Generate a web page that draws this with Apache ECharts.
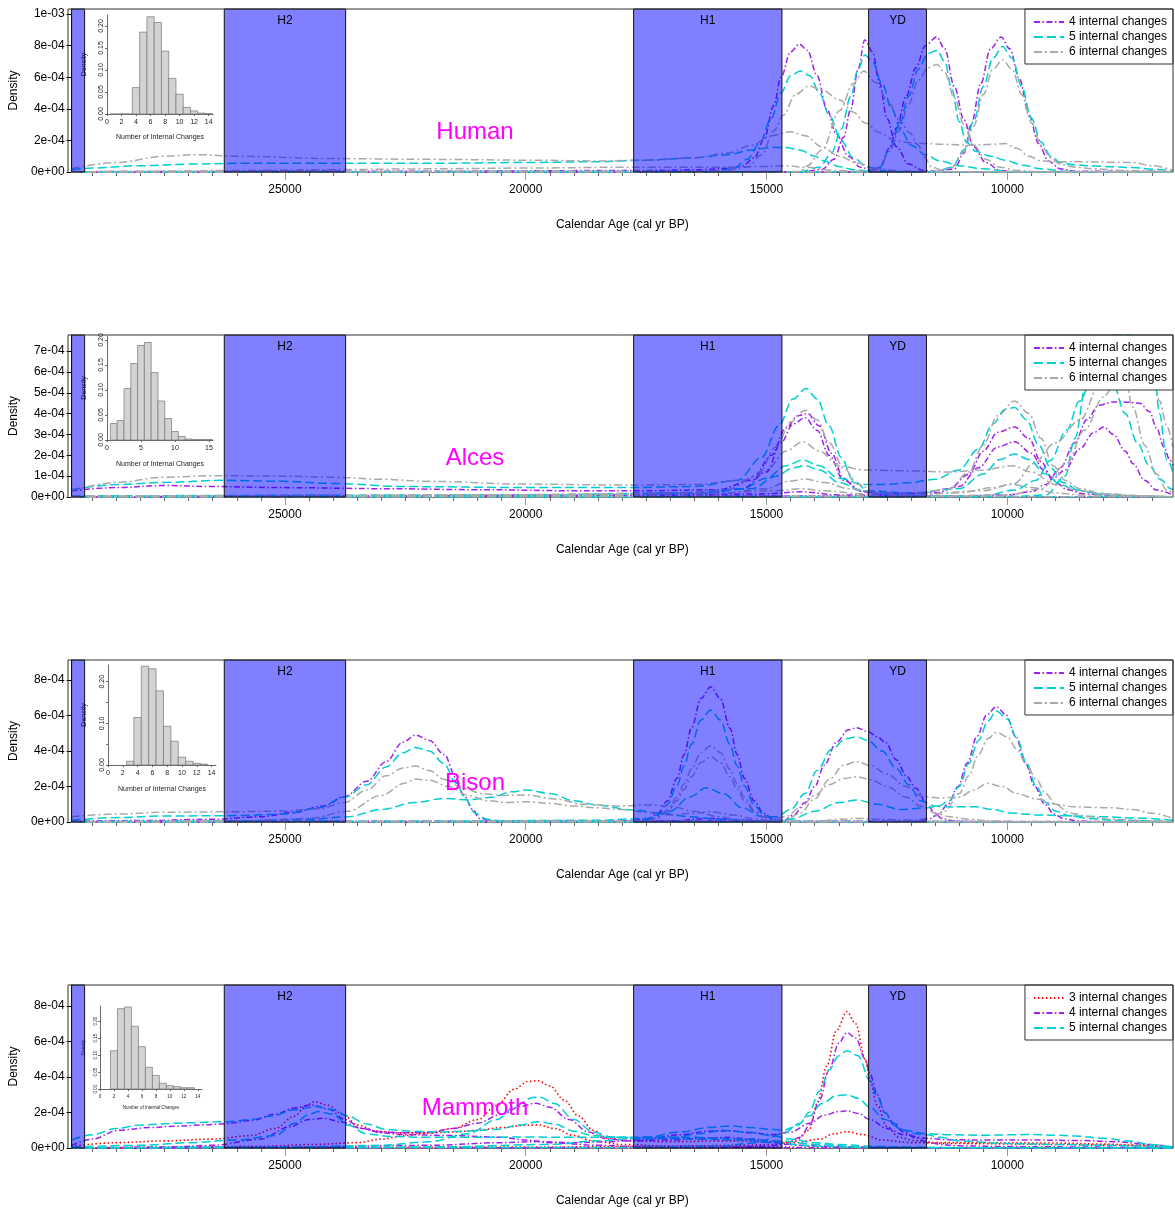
<!DOCTYPE html>
<html>
<head>
<meta charset="utf-8">
<script src="https://cdn.jsdelivr.net/npm/echarts@6/dist/echarts.min.js"></script>
<style>html,body{margin:0;padding:0;background:#fff}#c{width:1175px;height:1211px}</style>
</head>
<body>
<div id="c"></div>
<script>
// ---------------- DATA (densities in units of 1e-4, x = calendar age cal yr BP) ----------------
const panelNames = ['Human', 'Alces', 'Bison', 'Mammoth'];
const xTickLabels = [25000, 20000, 15000, 10000];
const bandStart = [29430, 26260, 17760, 12880];
const bandEnd   = [29160, 23740, 14680, 11680];
const bandLabels = ['', 'H2', 'H1', 'YD'];

// Human
const human4a = [[29430,0.02],[22000,0.05],[17500,0.1],[16300,0.15],[15700,0.25],[15500,0.4],[15250,0.9],[15050,2.1],[14850,4.2],[14700,6.0],[14500,7.6],[14320,8.1],[14150,7.7],[13950,6.1],[13750,4.0],[13550,2.4],[13300,1.0],[13050,0.3],[12750,0.05],[12400,0.02],[6560,0.01]];
const human4b = [[29430,0.01],[14300,0.02],[13850,0.15],[13600,0.8],[13400,2.2],[13250,4.0],[13100,6.5],[12960,8.35],[12800,7.6],[12650,5.6],[12500,3.4],[12300,1.6],[12050,0.5],[11750,0.1],[11400,0.02],[6560,0.01]];
const human4c = [[29430,0],[12900,0.02],[12650,0.25],[12450,1.5],[12300,2.8],[12100,4.8],[11900,6.6],[11700,8.0],[11470,8.55],[11300,7.8],[11100,5.4],[10900,3.3],[10700,1.6],[10450,0.6],[10150,0.1],[9900,0.02],[6560,0]];
const human4d = [[29430,0],[11500,0.02],[11100,0.2],[10900,1.2],[10750,3.0],[10550,5.6],[10350,7.8],[10130,8.55],[9950,7.8],[9750,5.9],[9550,3.6],[9350,1.8],[9150,0.7],[8900,0.2],[8600,0.05],[6560,0.02]];
const human5a = [[29430,0.15],[29000,0.25],[28000,0.4],[27000,0.5],[26000,0.55],[24000,0.55],[22000,0.55],[20000,0.6],[18500,0.65],[17500,0.75],[16500,0.9],[15800,1.1],[15300,1.4],[14900,1.56],[14600,1.55],[14300,1.4],[14000,1.0],[13800,0.7],[13500,0.35],[13200,0.15],[12800,0.03],[12400,0.01],[6560,0]];
const human5b = [[29430,0.01],[16200,0.03],[15700,0.2],[15400,0.8],[15150,1.8],[14900,3.4],[14700,5.0],[14500,6.1],[14300,6.4],[14100,6.1],[13900,5.0],[13700,3.6],[13450,2.0],[13200,0.9],[12900,0.3],[12500,0.05],[12200,0.01],[6560,0]];
const human5c = [[29430,0],[14300,0.02],[13900,0.3],[13650,1.2],[13450,2.7],[13250,4.8],[13100,6.5],[12960,7.4],[12800,7.0],[12600,5.6],[12400,4.0],[12200,2.6],[12000,1.7],[11700,1.1],[11400,0.7],[11000,0.4],[10500,0.2],[10000,0.05],[9600,0.01],[6560,0]];
const human5d = [[29430,0],[12900,0.02],[12650,0.3],[12450,1.4],[12250,2.9],[12050,4.8],[11850,6.5],[11650,7.5],[11460,7.7],[11300,7.0],[11150,5.2],[11000,3.2],[10850,1.9],[10650,1.3],[10350,1.0],[10050,0.75],[9700,0.45],[9300,0.2],[8800,0.05],[8400,0.02],[6560,0]];
const human5e = [[29430,0],[11500,0.02],[11150,0.3],[10900,1.4],[10700,3.2],[10500,5.4],[10300,7.2],[10100,7.95],[9900,7.2],[9700,5.4],[9500,3.4],[9300,1.9],[9100,1.0],[8900,0.6],[8600,0.45],[8200,0.38],[7800,0.33],[7400,0.28],[7000,0.18],[6560,0.05]];
const human6a = [[29430,0.2],[28500,0.6],[27500,1.0],[26800,1.1],[26000,1.0],[24000,0.85],[22000,0.8],[20000,0.75],[18500,0.7],[17500,0.75],[16500,0.9],[15800,1.2],[15300,1.7],[14900,2.3],[14500,2.55],[14200,2.3],[13850,1.6],[13500,1.0],[13100,0.55],[12650,0.2],[12200,0.05],[11800,0.02],[6560,0]];
const human6b = [[29430,0.01],[16000,0.05],[15400,0.3],[15100,1.1],[14850,2.6],[14650,3.6],[14400,4.9],[14120,5.44],[13850,5.2],[13480,4.56],[13200,3.8],[12950,3.1],[12650,2.5],[12340,2.0],[12000,1.85],[11700,1.8],[11300,1.75],[10800,1.7],[10300,1.75],[10050,1.8],[9800,1.5],[9550,1.0],[9300,0.7],[8900,0.65],[8500,0.65],[7800,0.62],[7400,0.6],[7000,0.4],[6560,0.1]];
const human6c = [[29430,0],[14300,0.03],[14150,0.4],[13850,1.4],[13480,3.9],[13200,5.6],[12980,6.4],[12750,5.7],[12480,4.5],[12250,3.3],[12030,2.5],[11850,1.7],[11730,0.97],[11560,0.3],[11300,0.05],[11000,0.01],[6560,0]];
const human6d = [[29430,0],[12900,0.02],[12650,0.3],[12450,1.3],[12250,2.6],[12050,4.3],[11850,5.8],[11650,6.6],[11460,6.8],[11300,6.3],[11100,4.7],[10900,3.0],[10700,1.7],[10450,0.8],[10150,0.3],[9800,0.1],[9400,0.02],[6560,0]];
const human6e = [[29430,0],[11500,0.02],[11150,0.3],[10900,1.3],[10700,2.9],[10500,4.9],[10300,6.5],[10100,7.1],[9900,6.5],[9700,4.9],[9500,3.1],[9300,1.7],[9100,0.9],[8900,0.5],[8600,0.3],[8200,0.2],[7600,0.1],[6560,0.02]];
const human6f = [[29430,0],[28000,0.05],[26000,0.1],[24000,0.15],[22000,0.2],[20000,0.25],[18000,0.3],[16000,0.3],[15000,0.35],[14600,0.4],[14200,0.3],[13600,0.1],[13000,0.05],[12000,0.03],[11000,0.01],[6560,0]];

// Alces
const alces4a = [[29430,0.3],[28500,0.45],[27500,0.55],[26500,0.5],[25000,0.45],[23000,0.4],[21000,0.35],[19000,0.3],[17500,0.3],[16000,0.35],[15300,0.8],[14900,2.0],[14600,3.3],[14350,3.9],[14150,4.0],[13900,3.4],[13650,2.1],[13400,0.9],[13100,0.3],[12600,0.1],[12000,0.05],[11000,0.02],[6560,0]];
const alces4b = [[29430,0],[24000,0.05],[19000,0.1],[16500,0.15],[15500,0.4],[15000,1.2],[14700,2.6],[14450,3.5],[14200,3.8],[13950,3.2],[13700,2.0],[13400,0.8],[13000,0.25],[12500,0.15],[11800,0.2],[11200,0.4],[10800,1.1],[10500,2.2],[10200,3.1],[9850,3.36],[9550,2.8],[9300,1.7],[9050,0.8],[8750,0.35],[8400,0.15],[7800,0.05],[6560,0]];
const alces4c = [[29430,0],[18000,0.05],[15000,0.15],[14300,0.25],[13500,0.1],[12500,0.1],[11500,0.2],[11000,0.5],[10600,1.4],[10200,2.4],[9850,2.65],[9500,2.1],[9250,1.3],[9050,0.9],[8800,1.3],[8500,2.3],[8200,3.1],[8000,3.36],[7800,3.0],[7550,2.2],[7390,1.6],[7150,0.8],[6900,0.33],[6560,0.1]];
const alces4d = [[29430,0],[14000,0.05],[11000,0.05],[10000,0.1],[9500,0.25],[9200,0.6],[8900,1.4],[8600,2.6],[8350,3.7],[8100,4.4],[7800,4.56],[7500,4.55],[7250,4.5],[7050,4.1],[6900,3.3],[6750,2.4],[6630,1.8],[6560,1.5]];
const alces5a = [[29430,0.35],[28500,0.6],[27500,0.7],[26300,0.8],[25000,0.75],[24000,0.65],[22500,0.5],[20000,0.45],[18000,0.45],[16500,0.5],[15600,0.8],[15100,1.9],[14750,3.4],[14450,4.7],[14180,5.2],[13950,4.7],[13700,3.4],[13450,1.9],[13200,0.8],[12900,0.3],[12400,0.1],[11500,0.05],[10500,0.02],[6560,0]];
const alces5b = [[29430,0.05],[20000,0.1],[16500,0.2],[15500,0.4],[15000,0.9],[14600,1.5],[14250,1.77],[13900,1.5],[13500,0.9],[13000,0.6],[12500,0.6],[12000,0.7],[11500,0.85],[11000,1.3],[10600,2.3],[10300,3.5],[10050,4.2],[9850,4.29],[9600,3.7],[9350,2.5],[9100,1.4],[8850,0.7],[8500,0.3],[8000,0.1],[7000,0.02],[6560,0]];
const alces5c = [[29430,0],[22000,0.05],[16500,0.15],[15300,0.4],[14800,1.0],[14450,1.4],[14200,1.5],[13900,1.3],[13500,0.7],[13000,0.3],[12000,0.2],[11000,0.4],[10500,1.1],[10150,1.8],[9850,2.06],[9550,1.8],[9200,1.1],[8900,0.6],[8600,0.35],[8200,0.2],[7500,0.05],[6560,0]];
const alces5d = [[29430,0],[12000,0.02],[10500,0.05],[9850,0.33],[9400,0.8],[9110,1.75],[8770,3.2],[8500,4.6],[8250,5.6],[8050,6.0],[7806,5.4],[7550,4.0],[7300,2.6],[7050,1.5],[6835,0.86],[6600,0.4],[6560,0.35]];
const alces5e = [[29430,0],[10000,0],[9200,0.1],[8800,1.0],[8600,2.8],[8350,5.6],[8100,7.2],[7800,7.8],[7500,7.8],[7250,7.4],[7050,6.5],[6938,5.6],[6840,4.0],[6690,1.8],[6560,1.2]];
const alces6a = [[29430,0.3],[28500,0.7],[27500,0.95],[26500,1.02],[25000,1.0],[24000,0.95],[23000,0.85],[22000,0.75],[20000,0.62],[18000,0.57],[16500,0.6],[15500,0.8],[15000,1.3],[14600,2.2],[14250,2.65],[13900,2.2],[13500,1.5],[13000,1.3],[12000,1.25],[11200,1.2],[10500,1.3],[9900,1.5],[9500,1.2],[9000,0.6],[8500,0.3],[8000,0.15],[7000,0.05],[6560,0]];
const alces6b = [[29430,0],[25000,0.05],[20000,0.1],[17000,0.2],[15800,0.35],[15200,1.0],[14800,2.4],[14500,3.6],[14200,4.16],[13950,3.7],[13700,2.6],[13400,1.4],[13100,0.6],[12700,0.2],[12000,0.05],[11000,0.02],[6560,0]];
const alces6c = [[29430,0.05],[24000,0.06],[19000,0.08],[16000,0.15],[15000,0.4],[14550,0.75],[14200,0.86],[13800,0.7],[13300,0.4],[12600,0.2],[11800,0.2],[11200,0.4],[10800,1.2],[10500,2.5],[10200,3.9],[9850,4.61],[9550,4.0],[9300,2.8],[9050,1.5],[8800,0.8],[8500,0.4],[8000,0.15],[7500,0.05],[6560,0]];
const alces6d = [[29430,0],[14000,0.05],[12000,0.1],[10500,0.3],[9850,0.65],[9462,1.6],[9000,2.6],[8490,3.7],[8076,5.4],[7800,6.2],[7550,5.6],[7392,4.3],[7150,2.5],[6900,1.1],[6690,0.33],[6560,0.2]];
const alces6e = [[29430,0],[12000,0.02],[10000,0.1],[9300,0.4],[8766,1.6],[8400,3.2],[8000,4.8],[7730,5.6],[7450,7.0],[7250,7.5],[7050,6.8],[6835,4.6],[6690,3.4],[6560,2.4]];
const alces6f = [[29430,0.02],[27000,0.05],[24000,0.08],[21000,0.1],[18000,0.15],[16000,0.2],[14800,0.3],[14300,0.4],[13800,0.3],[13000,0.15],[12000,0.1],[11000,0.2],[10300,0.45],[9900,0.6],[9500,0.45],[9000,0.2],[8500,0.1],[7500,0.05],[6560,0.02]];

// Bison
const bison4a = [[29430,0.05],[28000,0.08],[26500,0.15],[25500,0.3],[24800,0.55],[24200,0.9],[23760,1.43],[23300,2.3],[22900,3.4],[22550,4.5],[22290,4.9],[22000,4.6],[21690,3.8],[21450,2.5],[21286,1.5],[21100,0.7],[20965,0.2],[20600,0.05],[20000,0.03],[17000,0.05],[15000,0.05],[12000,0.03],[6560,0.01]];
const bison4b = [[29430,0.02],[18000,0.03],[17460,0.16],[17260,0.48],[17060,1.19],[16860,2.46],[16710,3.81],[16560,5.29],[16360,6.96],[16160,7.62],[15960,6.96],[15760,5.29],[15610,3.81],[15460,2.46],[15260,1.19],[15060,0.48],[14860,0.16],[14600,0.03],[6560,0.01]];
const bison4c = [[29430,0.01],[17000,0.05],[16200,0.2],[15500,0.1],[14900,0.03],[14665,0.05],[14428,0.4],[14200,1.1],[14000,2.0],[13800,3.2],[13550,4.5],[13300,5.2],[13130,5.31],[12900,5.1],[12700,4.8],[12538,4.5],[12300,3.5],[12100,2.6],[11900,1.9],[11660,0.96],[11500,0.5],[11366,0.2],[11100,0.05],[10800,0.02],[6560,0]];
const bison4d = [[29430,0],[11900,0.02],[11628,0.18],[11428,0.45],[11228,1.02],[11028,1.99],[10828,3.34],[10628,4.84],[10428,6.04],[10228,6.5],[10028,6.04],[9828,4.84],[9628,3.34],[9428,1.99],[9228,1.02],[9028,0.45],[8828,0.18],[8500,0.05],[8000,0.02],[6560,0.01]];
const bison5a = [[29430,0.1],[28500,0.25],[27500,0.34],[26000,0.36],[25000,0.45],[24300,0.8],[23760,1.4],[23300,2.1],[22900,3.1],[22550,3.9],[22290,4.2],[22000,4.0],[21700,3.3],[21450,2.2],[21250,1.3],[21050,0.5],[20800,0.15],[20400,0.03],[20000,0.01],[6560,0]];
const bison5b = [[29430,0],[26000,0.05],[24500,0.15],[23700,0.3],[23000,0.7],[22300,1.1],[21690,1.33],[21200,1.25],[20700,1.4],[20300,1.7],[19973,1.8],[19500,1.6],[19000,1.2],[18500,0.95],[17800,0.68],[17200,0.5],[16600,0.3],[16000,0.15],[15000,0.05],[14000,0.02],[6560,0]];
const bison5c = [[29430,0],[18000,0.02],[17460,0.13],[17260,0.39],[17060,0.98],[16860,2.05],[16710,3.16],[16560,4.38],[16360,5.75],[16160,6.31],[15960,5.75],[15760,4.38],[15610,3.16],[15460,2.05],[15260,0.98],[15060,0.39],[14860,0.13],[14600,0.03],[6560,0]];
const bison5d = [[29430,0.02],[22000,0.05],[18500,0.1],[17500,0.2],[17000,0.6],[16600,1.4],[16250,1.93],[15900,1.6],[15500,0.8],[15100,0.3],[14800,0.3],[14500,0.7],[14200,1.6],[13950,2.9],[13650,4.1],[13350,4.7],[13130,4.8],[12900,4.6],[12600,4.0],[12300,3.0],[12050,2.1],[11800,1.2],[11500,0.9],[11200,0.85],[10900,0.86],[10660,0.86],[10300,0.7],[9900,0.5],[9400,0.4],[8800,0.35],[8000,0.3],[7300,0.22],[6560,0.1]];
const bison5e = [[29430,0],[15000,0.02],[14500,0.15],[14000,0.6],[13500,1.1],[13130,1.24],[12700,1.0],[12200,0.7],[11700,0.8],[11450,0.86],[11200,1.2],[11000,2.0],[10800,3.3],[10600,4.6],[10400,5.7],[10228,6.25],[10000,5.8],[9800,4.7],[9600,3.3],[9400,2.0],[9200,1.1],[9000,0.6],[8700,0.35],[8300,0.2],[7800,0.1],[6560,0.02]];
const bison6a = [[29430,0.3],[28500,0.45],[27500,0.55],[26000,0.58],[25000,0.62],[24300,0.75],[23760,1.1],[23300,1.8],[22900,2.6],[22550,3.05],[22290,3.15],[22000,2.9],[21690,2.4],[21300,1.9],[20900,1.6],[20500,1.5],[19973,1.52],[19400,1.3],[18800,1.0],[18000,0.9],[17500,0.96],[17000,0.9],[16500,0.6],[16000,0.3],[15500,0.1],[15000,0.02],[14500,0.01],[6560,0]];
const bison6b = [[29430,0],[26000,0.05],[24500,0.2],[23700,0.6],[23000,1.5],[22500,2.2],[22290,2.42],[22000,2.35],[21600,2.0],[21200,1.5],[20800,1.2],[20400,1.1],[19973,1.14],[19500,1.05],[19000,0.9],[18500,0.8],[18000,0.7],[17500,0.55],[17000,0.4],[16500,0.5],[16160,0.58],[15700,0.4],[15200,0.15],[14800,0.05],[14400,0.02],[6560,0]];
const bison6c = [[29430,0],[18000,0.02],[17460,0.09],[17260,0.27],[17060,0.67],[16860,1.4],[16710,2.15],[16560,2.98],[16360,3.92],[16160,4.3],[15960,3.92],[15760,2.98],[15610,2.15],[15460,1.4],[15260,0.67],[15060,0.27],[14860,0.09],[14600,0.02],[6560,0]];
const bison6d = [[29430,0],[18000,0.02],[17460,0.08],[17260,0.23],[17060,0.57],[16860,1.2],[16710,1.84],[16560,2.55],[16360,3.36],[16160,3.68],[15960,3.36],[15760,2.55],[15610,1.84],[15460,1.2],[15260,0.6],[15060,0.3],[14860,0.2],[14600,0.3],[14300,0.8],[14000,1.5],[13700,2.1],[13400,2.45],[13130,2.55],[12850,2.4],[12500,2.0],[12100,1.4],[11800,0.9],[11500,0.5],[11200,0.3],[10800,0.15],[10300,0.05],[9800,0.02],[6560,0]];
const bison6e = [[29430,0.02],[20000,0.05],[16000,0.05],[14900,0.03],[14600,0.1],[14300,0.5],[14000,1.3],[13700,2.4],[13400,3.2],[13130,3.4],[12850,3.2],[12500,2.7],[12100,2.0],[11750,1.43],[11400,1.35],[11000,1.4],[10700,1.8],[10414,2.18],[10100,2.0],[9800,1.6],[9400,1.3],[9000,1.0],[8620,0.86],[8200,0.82],[7830,0.8],[7400,0.7],[7000,0.5],[6560,0.2]];
const bison6f = [[29430,0.01],[14000,0.03],[13500,0.15],[13131,0.2],[12600,0.15],[12000,0.1],[11600,0.2],[11300,0.6],[11000,1.6],[10800,2.6],[10600,3.8],[10400,4.7],[10228,5.05],[10000,4.8],[9800,4.1],[9600,3.2],[9400,2.4],[9200,1.6],[9000,1.0],[8700,0.5],[8300,0.3],[7800,0.15],[7000,0.05],[6560,0.02]];

// Mammoth
const mammoth3a = [[29430,0.1],[28500,0.3],[27500,0.4],[26500,0.5],[25700,0.7],[25200,1.1],[24800,1.8],[24550,2.4],[24390,2.61],[24100,2.4],[23800,1.9],[23500,1.3],[23100,0.95],[22600,0.85],[22000,0.85],[21500,0.9],[21000,1.0],[20500,1.15],[20000,1.28],[19750,1.3],[19400,1.1],[19000,0.7],[18600,0.4],[18000,0.2],[17000,0.1],[15000,0.05],[13000,0.03],[10000,0.01],[6560,0]];
const mammoth3b = [[29430,0],[27000,0.05],[25500,0.1],[24400,0.2],[23500,0.3],[23000,0.5],[22500,0.7],[22000,0.85],[21500,1.1],[21000,1.6],[20600,2.4],[20250,3.3],[19950,3.75],[19750,3.79],[19500,3.5],[19200,2.7],[18900,1.8],[18600,1.0],[18300,0.55],[17800,0.4],[17000,0.35],[16000,0.4],[15500,0.4],[15000,0.35],[14400,0.3],[13900,0.5],[13600,0.8],[13330,0.92],[13000,0.75],[12600,0.45],[12000,0.3],[11000,0.25],[9000,0.2],[7500,0.15],[6560,0.05]];
const mammoth3c = [[29430,0],[26000,0.03],[20000,0.05],[17000,0.1],[15500,0.15],[14800,0.2],[14400,0.4],[14118,1.0],[13950,2.5],[13750,4.6],[13550,6.6],[13330,7.68],[13150,7.0],[12950,5.0],[12855,3.8],[12700,2.4],[12500,1.2],[12250,0.6],[11900,0.4],[11500,0.3],[10500,0.3],[9000,0.28],[8000,0.22],[7200,0.15],[6560,0.05]];
const mammoth4a = [[29430,0.15],[29000,0.5],[28455,1.0],[27800,1.15],[27255,1.23],[26700,1.3],[26220,1.37],[25700,1.55],[25200,1.9],[24800,2.25],[24450,2.42],[24100,2.2],[23750,1.6],[23400,1.1],[23000,0.85],[22500,0.75],[21500,0.7],[20500,0.6],[20000,0.45],[19500,0.3],[18500,0.15],[17500,0.05],[16000,0.02],[6560,0]];
const mammoth4b = [[29430,0],[27500,0.05],[26500,0.15],[25500,0.5],[24900,1.2],[24500,1.6],[24200,1.67],[23800,1.45],[23400,1.1],[23000,0.9],[22500,0.85],[22000,0.9],[21500,1.1],[21000,1.4],[20500,1.9],[20100,2.35],[19800,2.52],[19500,2.3],[19100,1.6],[18700,0.9],[18300,0.5],[17800,0.4],[17000,0.45],[16300,0.55],[15800,0.6],[15300,0.5],[14800,0.3],[14300,0.15],[13800,0.1],[13000,0.05],[12000,0.02],[6560,0]];
const mammoth4c = [[29430,0],[25000,0.05],[22000,0.15],[20500,0.3],[19750,0.36],[19000,0.3],[18300,0.35],[17500,0.5],[16800,0.75],[16200,0.95],[15800,0.97],[15300,0.85],[14900,0.75],[14500,0.9],[14100,1.4],[13800,1.85],[13500,2.05],[13330,2.1],[13100,1.95],[12850,1.6],[12500,1.1],[12150,0.75],[11700,0.55],[11200,0.47],[10500,0.45],[9500,0.45],[8500,0.42],[7700,0.35],[7100,0.2],[6560,0.05]];
const mammoth4d = [[29430,0],[20000,0.02],[16000,0.05],[15000,0.1],[14600,0.2],[14300,0.6],[14100,1.3],[13900,2.7],[13700,4.4],[13500,5.9],[13330,6.5],[13150,6.2],[12950,5.0],[12855,4.2],[12700,3.0],[12545,2.0],[12350,1.3],[12151,0.9],[11900,0.55],[11677,0.35],[11400,0.2],[11000,0.12],[10000,0.08],[8000,0.05],[6560,0]];
const mammoth5a = [[29430,0.45],[29000,0.75],[28500,1.1],[28000,1.3],[27000,1.42],[26200,1.48],[25700,1.6],[25270,1.8],[24800,2.15],[24350,2.34],[24000,2.15],[23700,1.8],[23300,1.35],[22900,1.05],[22400,0.95],[21800,0.9],[21200,0.95],[20600,1.05],[20100,1.3],[19750,1.48],[19400,1.35],[19000,0.95],[18600,0.7],[18000,0.6],[17300,0.55],[16500,0.5],[15500,0.45],[14800,0.3],[14000,0.1],[13000,0.03],[12000,0.01],[6560,0]];
const mammoth5b = [[29430,0.05],[28000,0.15],[27000,0.3],[26000,0.45],[25200,0.7],[24800,1.4],[24500,1.9],[24300,2.05],[24000,1.9],[23700,1.3],[23300,0.8],[22800,0.65],[22000,0.6],[21000,0.6],[20000,0.62],[19000,0.6],[18050,0.6],[17300,0.62],[16500,0.6],[15500,0.5],[14700,0.4],[14000,0.2],[13000,0.05],[12000,0.02],[6560,0]];
const mammoth5c = [[29430,0],[25000,0.05],[23000,0.15],[22000,0.35],[21200,0.8],[20600,1.6],[20200,2.4],[19850,2.85],[19700,2.86],[19400,2.5],[19000,1.6],[18600,0.9],[18200,0.6],[17600,0.5],[17000,0.55],[16400,0.8],[15900,1.0],[15400,0.9],[14900,0.7],[14500,0.5],[14000,0.3],[13500,0.2],[12800,0.1],[12000,0.05],[11000,0.02],[6560,0]];
const mammoth5d = [[29430,0],[22000,0.05],[19500,0.2],[18500,0.4],[17500,0.6],[16800,0.9],[16200,1.15],[15773,1.24],[15300,1.15],[14900,1.05],[14666,1.0],[14400,1.2],[14118,1.8],[13850,2.5],[13550,2.95],[13330,3.0],[13100,2.8],[12855,2.3],[12545,1.6],[12151,1.0],[11677,0.8],[11200,0.75],[10500,0.72],[9800,0.75],[9500,0.76],[9000,0.72],[8615,0.68],[8000,0.55],[7500,0.4],[7000,0.2],[6560,0.05]];
const mammoth5e = [[29430,0],[18000,0.03],[16000,0.1],[15200,0.3],[14666,0.8],[14300,1.4],[14118,2.0],[13900,3.2],[13700,4.4],[13500,5.2],[13330,5.48],[13100,5.2],[12855,3.8],[12700,2.9],[12545,2.0],[12350,1.4],[12151,1.0],[11900,0.8],[11677,0.75],[11400,0.6],[11000,0.4],[10000,0.25],[9000,0.2],[8000,0.15],[7000,0.1],[6560,0.05]];

// Inset histograms: bin centres and densities
const humanHistBins = [1,2,3,4,5,6,7,8,9,10,11,12,13,14];
const humanHistDens = [0,0,0,0.060,0.186,0.221,0.208,0.143,0.081,0.045,0.015,0.007,0.002,0.001];
const alcesHistBins = [1,2,3,4,5,6,7,8,9,10,11,12,13,14,15];
const alcesHistDens = [0.033,0.039,0.103,0.153,0.189,0.195,0.135,0.078,0.043,0.017,0.007,0.002,0.001,0.001,0.001];
const bisonHistBins = [3,4,5,6,7,8,9,10,11,12,13];
const bisonHistDens = [0.009,0.114,0.237,0.231,0.178,0.093,0.057,0.019,0.009,0.004,0.002];
const mammothHistBins = [2,3,4,5,6,7,8,9,10,11,12,13];
const mammothHistDens = [0.113,0.237,0.242,0.185,0.125,0.064,0.040,0.017,0.010,0.007,0.004,0.004];
const histXTicks14 = [0,2,4,6,8,10,12,14];
const histXTicks15 = [0,5,10,15];

// ---------------- LAYOUT / STYLE ----------------
const FONT = 'Liberation Sans, Arial, Helvetica, sans-serif';
const X_MIN = 6560, X_MAX = 29430;
const panelTop = [9, 335, 660, 985];
const panelH = [163, 162, 162, 163];
const yMaxes = [1.032e-3, 7.77e-4, 9.13e-4, 9.18e-4];
const yIntervals = [2e-4, 1e-4, 2e-4, 2e-4];
const STY = {
  3: {color: '#FF0000', type: [1.5, 2.5], width: 1.6},
  4: {color: '#A020F0', type: [6, 2.5, 1.5, 2.5], width: 1.5},
  5: {color: '#00CED1', type: [9, 4], width: 1.5},
  6: {color: '#A9A9A9', type: [8, 3, 2, 3], width: 1.5}
};
const panelCurves = [
  [[4,human4a],[4,human4b],[4,human4c],[4,human4d],[5,human5a],[5,human5b],[5,human5c],[5,human5d],[5,human5e],[6,human6a],[6,human6b],[6,human6c],[6,human6d],[6,human6e],[6,human6f]],
  [[4,alces4a],[4,alces4b],[4,alces4c],[4,alces4d],[5,alces5a],[5,alces5b],[5,alces5c],[5,alces5d],[5,alces5e],[6,alces6a],[6,alces6b],[6,alces6c],[6,alces6d],[6,alces6e],[6,alces6f]],
  [[4,bison4a],[4,bison4b],[4,bison4c],[4,bison4d],[5,bison5a],[5,bison5b],[5,bison5c],[5,bison5d],[5,bison5e],[6,bison6a],[6,bison6b],[6,bison6c],[6,bison6d],[6,bison6e],[6,bison6f]],
  [[3,mammoth3a],[3,mammoth3b],[3,mammoth3c],[4,mammoth4a],[4,mammoth4b],[4,mammoth4c],[4,mammoth4d],[5,mammoth5a],[5,mammoth5b],[5,mammoth5c],[5,mammoth5d],[5,mammoth5e]]
];
const legendKeys = [[4,5,6],[4,5,6],[4,5,6],[3,4,5]];
const hists = [
  {bins: humanHistBins, dens: humanHistDens, left: 107, top: 15, w: 106, h: 99, xmax: 14.6, ymax: 0.225, ticks: histXTicks14, fs: 7, yGap: 19, xGap: 18, every: 1},
  {bins: alcesHistBins, dens: alcesHistDens, left: 107, top: 336, w: 106, h: 104, xmax: 15.6, ymax: 0.208, ticks: histXTicks15, fs: 7, yGap: 19, xGap: 19, every: 1},
  {bins: bisonHistBins, dens: bisonHistDens, left: 108, top: 665, w: 108, h: 100, xmax: 14.6, ymax: 0.24, ticks: histXTicks14, fs: 7, yGap: 20, xGap: 19, every: 2},
  {bins: mammothHistBins, dens: mammothHistDens, left: 100, top: 1006, w: 102, h: 83, xmax: 14.6, ymax: 0.245, ticks: histXTicks14, fs: 4.5, yGap: 14, xGap: 14, every: 1}
];

function expLabel(v) {
  if (v === 0) return '0e+00';
  const s = v.toExponential(0).split('e');
  let e = parseInt(s[1], 10);
  const sign = e < 0 ? '-' : '+';
  e = Math.abs(e);
  return s[0] + 'e' + sign + (e < 10 ? '0' + e : '' + e);
}

const grid = [], xAxis = [], yAxis = [], series = [], legend = [], graphic = [];
const bandData = bandStart.map((s, i) => [s, bandEnd[i], i]);

function bandRender(params, api) {
  const cs = params.coordSys;
  const xa = api.coord([api.value(0), 0])[0];
  const xb = api.coord([api.value(1), 0])[0];
  const x1 = Math.max(Math.min(xa, xb), cs.x);
  const x2 = Math.min(Math.max(xa, xb), cs.x + cs.width);
  const label = bandLabels[api.value(2)];
  return {type: 'group', children: [
    {type: 'rect', shape: {x: x1, y: cs.y, width: x2 - x1, height: cs.height},
     style: {fill: 'rgba(0,0,255,0.5)', stroke: '#111', lineWidth: 1}},
    {type: 'text', style: {text: label, x: (x1 + x2) / 2, y: cs.y + 12, textAlign: 'center', textVerticalAlign: 'middle', fontSize: 12, fontFamily: FONT, fill: '#000'}}
  ]};
}
function histRender(params, api) {
  const c = api.value(0), d = api.value(1);
  const p1 = api.coord([c - 0.5, d]);
  const p2 = api.coord([c + 0.5, 0]);
  return {type: 'rect', shape: {x: p1[0], y: p1[1], width: p2[0] - p1[0], height: p2[1] - p1[1]},
          style: {fill: '#D3D3D3', stroke: '#777', lineWidth: 0.7}};
}

const minorTicks = [];
for (let v = 7000; v <= 29000; v += 500) if (v % 5000 !== 0) minorTicks.push(v);

for (let p = 0; p < 4; p++) {
  grid.push({left: 68, right: 2, top: panelTop[p], height: panelH[p], containLabel: false});
  xAxis.push({
    gridIndex: p, type: 'value', min: X_MIN, max: X_MAX, inverse: true,
    name: 'Calendar Age (cal yr BP)', nameLocation: 'middle', nameGap: 47,
    nameTextStyle: {fontSize: 12, fontFamily: FONT, color: '#000'},
    axisLine: {show: true, lineStyle: {color: '#777', width: 1}},
    axisTick: {show: true, length: 8, customValues: xTickLabels, lineStyle: {color: '#999'}},
    axisLabel: {customValues: xTickLabels, fontSize: 12, fontFamily: FONT, color: '#000', margin: 12, formatter: v => String(v)},
    splitLine: {show: false}
  });
  yAxis.push({
    gridIndex: p, type: 'value', min: 0, max: yMaxes[p], interval: yIntervals[p],
    name: 'Density', nameLocation: 'middle', nameGap: 46,
    nameTextStyle: {fontSize: 12, fontFamily: FONT, color: '#000'},
    axisLine: {show: true, lineStyle: {color: '#000'}},
    axisTick: {show: true, length: 5, lineStyle: {color: '#000'}},
    axisLabel: {fontSize: 12, fontFamily: FONT, color: '#000', margin: 7, showMaxLabel: false, formatter: expLabel},
    splitLine: {show: false}
  });
  panelCurves[p].forEach(([k, arr]) => {
    series.push({
      type: 'line', name: k + ' internal changes', xAxisIndex: p, yAxisIndex: p,
      data: arr.map(q => [q[0], q[1] * 1e-4]),
      showSymbol: false, symbol: 'none', smooth: 0.35, smoothMonotone: 'x',
      lineStyle: {color: STY[k].color, width: STY[k].width, type: STY[k].type},
      itemStyle: {color: STY[k].color},
      z: 2, silent: true, animation: false
    });
  });
  series.push({
    type: 'custom', xAxisIndex: p, yAxisIndex: p, renderItem: bandRender,
    dimensions: ['start', 'end', 'idx'], encode: {x: ['start', 'end']},
    data: bandData, z: 5, silent: true, animation: false
  });
  legend.push({
    data: legendKeys[p].map(k => k + ' internal changes'),
    orient: 'vertical', right: 2, top: panelTop[p],
    backgroundColor: '#fff', borderColor: '#333', borderWidth: 1,
    padding: [7, 6, 6, 8], itemGap: 3, itemWidth: 30, itemHeight: 12,
    itemStyle: {color: 'rgba(0,0,0,0)', borderWidth: 0, opacity: 0},
    textStyle: {fontSize: 12, fontFamily: FONT, color: '#000', lineHeight: 12},
    selectedMode: false, z: 20
  });
  const t = panelTop[p], b = panelTop[p] + panelH[p];
  graphic.push({type: 'polyline', shape: {points: [[68, b], [68, t], [1173, t], [1173, b]]},
    style: {stroke: '#333', lineWidth: 1, fill: null}, z: 30, silent: true});
  graphic.push({type: 'text', x: 475, y: panelTop[p] + 123, z: 30, silent: true,
    style: {text: panelNames[p], fill: '#FF00FF', fontSize: 24, fontFamily: FONT, textAlign: 'center', textVerticalAlign: 'middle'}});
}

for (let p = 0; p < 4; p++) {
  xAxis.push({gridIndex: p, type: 'value', min: X_MIN, max: X_MAX, inverse: true, position: 'bottom',
    axisLine: {show: false}, axisLabel: {show: false}, splitLine: {show: false},
    axisTick: {show: true, length: 4, customValues: minorTicks, lineStyle: {color: '#666'}}});
  yAxis.push({gridIndex: p, type: 'value', min: 0, max: yMaxes[p], show: false});
}

hists.forEach((h, i) => {
  const gi = 4 + i;
  grid.push({left: h.left, top: h.top, width: h.w, height: h.h, containLabel: false});
  const axIdx = xAxis.length;
  xAxis.push({
    gridIndex: gi, type: 'value', min: 0, max: h.xmax, offset: 2,
    name: 'Number of Internal Changes', nameLocation: 'middle', nameGap: h.xGap,
    nameTextStyle: {fontSize: h.fs, fontFamily: FONT, color: '#222'},
    axisLine: {show: true, lineStyle: {color: '#444', width: 0.8}},
    axisTick: {show: true, length: 2, customValues: h.ticks, lineStyle: {color: '#444', width: 0.8}},
    axisLabel: {customValues: h.ticks, fontSize: h.fs, fontFamily: FONT, color: '#222', margin: 3},
    splitLine: {show: false}
  });
  yAxis.push({
    gridIndex: gi, type: 'value', min: 0, max: h.ymax, interval: 0.05,
    name: 'Density', nameLocation: 'middle', nameGap: h.yGap,
    nameTextStyle: {fontSize: h.fs, fontFamily: FONT, color: '#222'},
    axisLine: {show: true, lineStyle: {color: '#444', width: 0.8}},
    axisTick: {show: true, length: 2, lineStyle: {color: '#444', width: 0.8}},
    axisLabel: {fontSize: h.fs, fontFamily: FONT, color: '#222', margin: 2, rotate: 90, showMaxLabel: false,
      formatter: v => (h.every === 2 && Math.round(v * 100) % 10 !== 0) ? '' : v.toFixed(2)},
    splitLine: {show: false}
  });
  series.push({
    type: 'custom', xAxisIndex: axIdx, yAxisIndex: axIdx, renderItem: histRender,
    data: h.bins.map((c, j) => [c, h.dens[j]]), z: 6, silent: true, animation: false
  });
});

const chart = echarts.init(document.getElementById('c'), null, {renderer: 'canvas'});
chart.setOption({
  animation: false,
  backgroundColor: '#fff',
  textStyle: {fontFamily: FONT},
  grid: grid, xAxis: xAxis, yAxis: yAxis, legend: legend, series: series, graphic: graphic
});
</script>
</body>
</html>
